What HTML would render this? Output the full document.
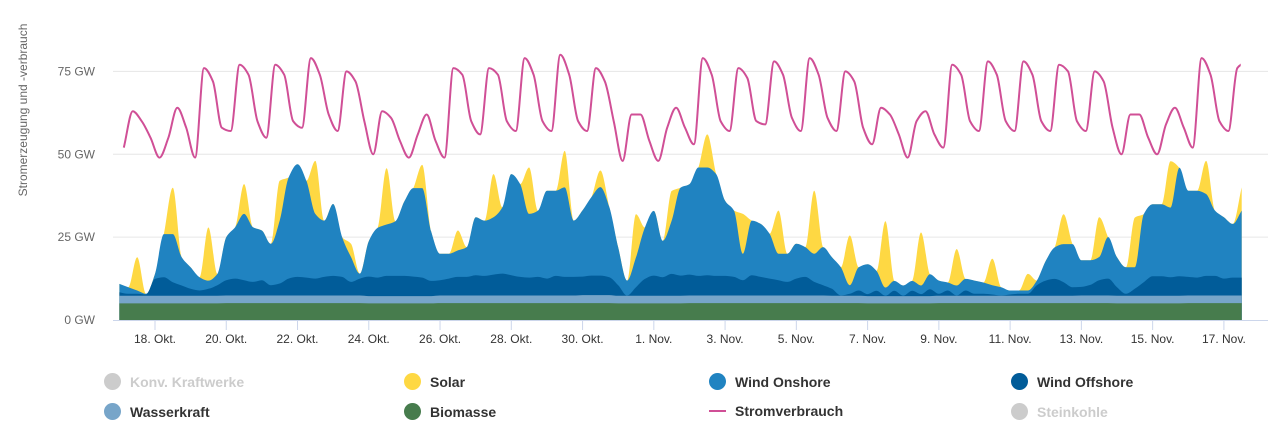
<!DOCTYPE html>
<html><head><meta charset="utf-8">
<style>
body{margin:0;background:#fff;font-family:"Liberation Sans",sans-serif;}
#wrap{position:relative;width:1273px;height:424px;overflow:hidden;}
.leg{position:absolute;font-size:14px;font-weight:bold;color:#333;display:flex;align-items:center;cursor:pointer;}
.leg .ic{width:17px;height:17px;border-radius:50%;margin-right:9px;}
.leg.off{color:#ccc;}
</style></head>
<body>
<div id="wrap">
<svg id="chart" width="1273" height="360"></svg>
<div class="leg off" style="left:104px;top:373px"><span class="ic" style="background:#ccc"></span>Konv. Kraftwerke</div>
<div class="leg" style="left:404px;top:373px"><span class="ic" style="background:#fed843"></span>Solar</div>
<div class="leg" style="left:709px;top:373px"><span class="ic" style="background:#2083c1"></span>Wind Onshore</div>
<div class="leg" style="left:1011px;top:373px"><span class="ic" style="background:#015c99"></span>Wind Offshore</div>
<div class="leg" style="left:104px;top:403px"><span class="ic" style="background:#77a5c9"></span>Wasserkraft</div>
<div class="leg" style="left:404px;top:403px"><span class="ic" style="background:#477c4d"></span>Biomasse</div>
<div class="leg" style="left:709px;top:403px"><span style="width:17px;height:2px;background:#d04f96;margin-right:9px;display:inline-block"></span>Stromverbrauch</div>
<div class="leg off" style="left:1011px;top:403px"><span class="ic" style="background:#ccc"></span>Steinkohle</div>
</div>
<script>
// x tick labels (every 2 days starting Oct 18)
const xTickLabels = ["18. Okt.","20. Okt.","22. Okt.","24. Okt.","26. Okt.","28. Okt.","30. Okt.","1. Nov.","3. Nov.","5. Nov.","7. Nov.","9. Nov.","11. Nov.","13. Nov.","15. Nov.","17. Nov."];
const yTickValues = [0,25,50,75];
// daily values (Oct 17 .. Nov 17)
const biomass = [5.0,5.0,5.0,5.1,5.1,5.1,5.1,5.0,5.0,5.1,5.1,5.1,5.1,5.1,5.0,5.0,5.1,5.1,5.1,5.1,5.1,5.0,5.0,5.1,5.1,5.1,5.1,5.1,5.0,5.0,5.1,5.1];
const hydro = [2.3,2.3,2.3,2.3,2.3,2.3,2.3,2.2,2.2,2.3,2.3,2.3,2.3,2.4,2.3,2.3,2.3,2.3,2.3,2.3,2.2,2.2,2.2,2.2,2.2,2.2,2.2,2.3,2.3,2.3,2.3,2.3];
const solarNoon = [10,14,16,9,12,16,4,17,7,6,13,14,11,5,13,9,10,12,13,19,15,20,16,11,8,5,9,12,15,14,10,7];
// 6-hourly values (00,06,12,18), GW
const offshore = [
1.1,0.6,0.6,0.4, 5.1,5.6,4.1,3.1, 2.1,1.6,2.1,3.2, 4.6,5.1,4.6,4.1, 4.6,3.1,3.6,5.1,
5.6,5.4,5.1,5.6, 5.9,5.6,4.1,5.1, 5.9,5.6,6.1,6.1, 6.1,5.9,5.6,4.6, 4.6,5.1,5.6,5.6,
6.1,5.9,6.3,6.6, 6.1,5.6,5.4,5.6, 5.1,5.9,5.6,5.6, 5.6,5.9,5.9,5.4, 3.2,0.1,2.6,5.1,
6.1,5.6,6.6,6.1, 6.3,5.9,6.1,5.9, 5.9,5.6,4.6,6.1, 5.6,5.1,4.6,4.1, 5.1,5.6,4.1,3.1,
2.1,0.1,0.6,1.6, 0.6,1.6,0.1,1.6, 0.1,1.6,0.6,2.1, 0.6,1.6,0.1,1.6, 0.6,0.6,0.4,0.1,
0.4,0.6,0.6,3.2, 4.6,5.1,4.1,2.6, 2.6,3.2,4.6,5.1, 2.6,0.6,2.1,4.1, 5.9,5.9,5.6,5.9,
5.6,5.4,5.9,5.9, 5.1,5.4,5.4];
const onshore = [
2.5,2,1,0.2, 1.5,13,14.5,8.5, 6.5,4,2.5,3.4, 13,15.5,20,16.5, 15,12.5,19,30.5,
34,29.2,19.5,17, 21.7,12,7.5,1.5, 10.7,15,15.5,16.5, 22.5,26.7,27,15, 8,7.5,8,9,
17.5,16.7,17.3,20, 30.5,28,19.2,20, 26.5,25.7,27,17, 20,23.7,26.7,21.2, 11.4,4.5,9,15.5,
19.5,11,16,26.5, 27.3,32.7,32.5,30.7, 22.7,20,8,16.5, 16,13.5,8,8.5, 10.5,9,8.5,11.5,
9.5,8.5,2.6,7, 9,6,2.5,3, 3.1,3,2.6,4.5, 4,2.4,3,3.5, 4,3.4,2.8,2.5,
1.2,1,1,1.4, 6,9.5,11.5,13, 8,7.4,7,12.5, 9,8,6.5,20.5, 21.7,21.7,21,32.7,
26,26.2,24.7,19.7, 18.5,16.2,20.2];
// consumption at 03,09,15,21 each day
const consumption = [
52,63,60,55, 49,55,64,58, 49,76,72,58, 57,77,74,60, 55,77,74,60,
58,79,74,62, 57,75,72,60, 50,63,61,54, 49,56,62,54, 49,76,74,60,
56,76,74,60, 57,79,74,60, 57,80,74,60, 57,76,72,60, 48,62,62,54,
48,58,64,58, 53,79,74,60, 57,76,73,60, 59,78,74,61, 57,79,74,61,
57,75,72,58, 53,64,62,56, 49,60,63,56, 52,77,74,60, 57,78,74,60,
57,78,74,60, 57,77,75,60, 57,75,72,58, 50,62,62,55, 50,59,64,58,
52,79,74,60, 57,76,78];

const NS="http://www.w3.org/2000/svg";
const svg=document.getElementById('chart');
const X0=113,X1=1268,Y0=320;
function xs(t){return 155+(t-1)*35.63;}
function ys(v){return Y0-v*3.315;}
function el(tag,attrs,parent){const e=document.createElementNS(NS,tag);for(const k in attrs)e.setAttribute(k,attrs[k]);(parent||svg).appendChild(e);return e;}
function monotone(pts){
  const n=pts.length; if(n<2)return "";
  const dx=[],m=[],s=[];
  for(let i=0;i<n-1;i++){dx[i]=pts[i+1][0]-pts[i][0];s[i]=(pts[i+1][1]-pts[i][1])/dx[i];}
  m[0]=s[0];m[n-1]=s[n-2];
  for(let i=1;i<n-1;i++){ if(s[i-1]*s[i]<=0)m[i]=0; else m[i]=3*(dx[i-1]+dx[i])/((2*dx[i]+dx[i-1])/s[i-1]+(dx[i]+2*dx[i-1])/s[i]); }
  let d="M"+pts[0][0].toFixed(1)+","+pts[0][1].toFixed(1);
  for(let i=0;i<n-1;i++){const h=dx[i]/3;
    d+="C"+(pts[i][0]+h).toFixed(1)+","+(pts[i][1]+m[i]*h).toFixed(1)+" "+(pts[i+1][0]-h).toFixed(1)+","+(pts[i+1][1]-m[i+1]*h).toFixed(1)+" "+pts[i+1][0].toFixed(1)+","+pts[i+1][1].toFixed(1);}
  return d;
}
// grid
yTickValues.forEach(v=>{
  if(v>0){const g=el('line',{x1:X0,x2:X1,y1:ys(v),y2:ys(v),stroke:'#e6e6e6','stroke-width':1});
  }
  const t=el('text',{x:95,y:ys(v)+4,'text-anchor':'end','font-size':12,fill:'#666'});
  t.textContent=v+" GW";
  
});
const yt=el('text',{transform:'translate(27,110) rotate(-90)','text-anchor':'middle','font-size':12,fill:'#666'});
yt.textContent="Stromerzeugung und -verbrauch";


// stacked areas
const N=offshore.length;
const layers=[[],[],[],[],[]];
for(let i=0;i<N;i++){
  const d=Math.floor(i/4);
  const b=biomass[d], h=hydro[d], o=offshore[i], w=onshore[i], s=(i%4===2)?solarNoon[d]:0;
  const c=[b,b+h,b+h+o,b+h+o+w,b+h+o+w+s];
  const t=i*0.25;
  for(let k=0;k<5;k++)layers[k].push([xs(t),ys(c[k])]);
}
const colors=["#477c4d","#77a5c9","#015c99","#2083c1","#fed843"];
const names=["area-biomasse","area-wasserkraft","area-wind-offshore","area-wind-onshore","area-solar"];
for(let k=4;k>=0;k--){
  const p=layers[k];
  const d=monotone(p)+"L"+p[p.length-1][0].toFixed(1)+","+Y0+"L"+p[0][0].toFixed(1)+","+Y0+"Z";
  const a=el('path',{d:d,fill:colors[k],stroke:'none'});
  
}
// x axis
const ax=el('line',{x1:X0,x2:X1,y1:Y0+0.5,y2:Y0+0.5,stroke:'#ccd6eb','stroke-width':1});

xTickLabels.forEach((lab,i)=>{
  const x=xs(1+2*i);
  const tk=el('line',{x1:x,x2:x,y1:Y0,y2:Y0+10,stroke:'#ccd6eb'});
  
  const t=el('text',{x:x,y:343,'text-anchor':'middle','font-size':12,fill:'#333'});
  t.textContent=lab;
  
});
// consumption line
const defs=el('defs',{});
const cp=el('clipPath',{id:'clipc'},defs);
el('rect',{x:X0,y:0,width:xs((N-1)*0.25)-X0-1,height:360},cp);
const cpts=consumption.map((v,i)=>[xs(Math.floor(i/4)+(3+6*(i%4))/24),ys(v)]);
const ln=el('path',{d:monotone(cpts),fill:'none',stroke:'#d04f96','stroke-width':2,'clip-path':'url(#clipc)'});

</script>
</body></html>
